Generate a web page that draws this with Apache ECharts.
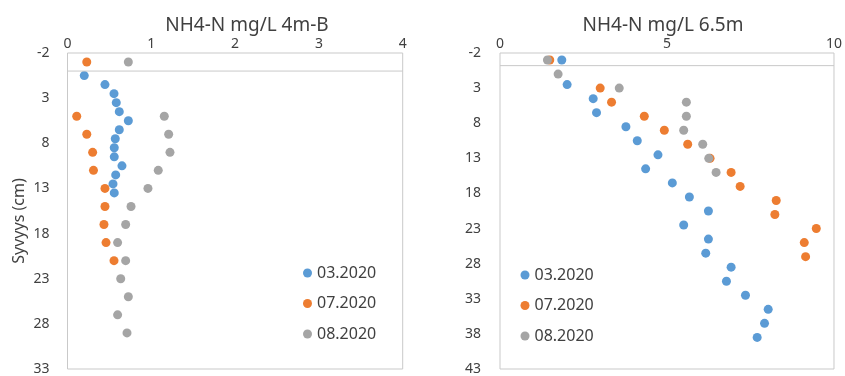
<!DOCTYPE html>
<html>
<head>
<meta charset="utf-8">
<script src="https://cdn.jsdelivr.net/npm/echarts@6/dist/echarts.min.js"></script>
<style>
  html, body { margin: 0; padding: 0; background: #fff; }
  #chart { width: 845px; height: 376px; }
</style>
</head>
<body>
<div id="chart"></div>
<script>
// Sediment pore-water NH4-N profiles, two stations.
const seriesNames = ['03.2020', '07.2020', '08.2020'];
const seriesColors = ['#5B9BD5', '#ED7D31', '#A5A5A5'];

// Station 4m-B (depth in cm, NH4-N in mg/L)
const depthA03 = [0.5, 1.5, 2.5, 3.5, 4.5, 5.5, 6.5, 7.5, 8.5, 9.5, 10.5, 11.5, 12.5, 13.5];
const valueA03 = [0.20, 0.447, 0.555, 0.582, 0.618, 0.726, 0.618, 0.57, 0.558, 0.558, 0.65, 0.575, 0.543, 0.558];
const depthA07 = [-1, 5, 7, 9, 11, 13, 15, 17, 19, 21];
const valueA07 = [0.23, 0.11, 0.23, 0.30, 0.31, 0.447, 0.447, 0.435, 0.46, 0.555];
const depthA08 = [-1, 5, 7, 9, 11, 13, 15, 17, 19, 21, 23, 25, 27, 29];
const valueA08 = [0.726, 1.155, 1.207, 1.223, 1.083, 0.96, 0.758, 0.694, 0.598, 0.694, 0.635, 0.726, 0.598, 0.71];

// Station 6.5m
const depthB03 = [-1, 2.5, 4.5, 6.5, 8.5, 10.5, 12.5, 14.5, 16.5, 18.5, 20.5, 22.5, 24.5, 26.5, 28.5, 30.5, 32.5, 34.5, 36.5, 38.5];
const valueB03 = [1.85, 2.01, 2.79, 2.89, 3.77, 4.11, 4.73, 4.36, 5.16, 5.67, 6.24, 5.5, 6.24, 6.16, 6.92, 6.78, 7.35, 8.03, 7.92, 7.7];
const depthB07 = [-1, 3, 5, 7, 9, 11, 13, 15, 17, 19, 21, 23, 25, 27];
const valueB07 = [1.49, 3.0, 3.34, 4.32, 4.92, 5.62, 6.29, 6.92, 7.19, 8.27, 8.23, 9.47, 9.11, 9.15];
const depthB08 = [-1, 1, 3, 5, 7, 9, 11, 13, 15];
const valueB08 = [1.42, 1.74, 3.57, 5.58, 5.58, 5.5, 6.07, 6.25, 6.47];

// Sediment surface reference lines
const surfaceA = [[0, 0], [4, 0]];
const surfaceB = [[0, -0.2], [10, -0.2]];

// Axis ranges and tick steps
const xRangeA = [0, 4, 1];
const xRangeB = [0, 10, 5];
const yRangeA = [-2, 33, 5];
const yRangeB = [-2, 43, 5];

const titles = ['NH4-N mg/L 4m-B', 'NH4-N mg/L 6.5m'];
const yName = 'Syvyys (cm)';

const FONT = '"Noto Sans", "DejaVu Sans", sans-serif';
const TEXT = '#404040';
const BORDER = '#C9C9C9';

const pairs = (xs, ys) => xs.map((v, i) => [v, ys[i]]);

function xAxis(idx, r) {
  return {
    gridIndex: idx, type: 'value', position: 'top',
    min: r[0], max: r[1], interval: r[2],
    axisLine: { show: false }, axisTick: { show: false }, splitLine: { show: false },
    axisLabel: { color: TEXT, fontFamily: FONT, fontSize: 14, margin: 2 }
  };
}
function yAxis(idx, r, margin) {
  return {
    gridIndex: idx, type: 'value', inverse: true,
    min: r[0], max: r[1], interval: r[2],
    axisLine: { show: false }, axisTick: { show: false }, splitLine: { show: false },
    axisLabel: { color: TEXT, fontFamily: FONT, fontSize: 14, margin: margin }
  };
}
function scatter(idx, k, xs, ys) {
  return {
    name: seriesNames[k], type: 'scatter', xAxisIndex: idx, yAxisIndex: idx,
    data: pairs(xs, ys), symbol: 'circle', symbolSize: 9,
    itemStyle: { color: seriesColors[k], opacity: 1 },
    emphasis: { disabled: true }
  };
}
function surface(idx, data) {
  return {
    type: 'line', xAxisIndex: idx, yAxisIndex: idx, data: data,
    symbol: 'none', silent: true,
    lineStyle: { color: BORDER, width: 1 }
  };
}
function legend(left, top, gap) {
  return {
    data: seriesNames, orient: 'vertical', left: left, top: top,
    icon: 'circle', itemWidth: 9, itemHeight: 9, itemGap: 14.5, itemTextGap: gap,
    textStyle: { color: TEXT, fontFamily: FONT, fontSize: 16, lineHeight: 16 }
  };
}

const chart = echarts.init(document.getElementById('chart'), null, { renderer: 'canvas' });
chart.setOption({
  animation: false,
  backgroundColor: '#fff',
  title: [
    { text: titles[0], left: 242, top: 11, textAlign: 'center',
      textStyle: { color: TEXT, fontFamily: FONT, fontSize: 19, fontWeight: 'normal' } },
    { text: titles[1], left: 658, top: 11, textAlign: 'center',
      textStyle: { color: TEXT, fontFamily: FONT, fontSize: 19, fontWeight: 'normal' } }
  ],
  grid: [
    { left: 67.5, right: 442.3, top: 53, bottom: 6, show: true, borderColor: BORDER, borderWidth: 1 },
    { left: 500, right: 8.5, top: 53, bottom: 6.5, show: true, borderColor: BORDER, borderWidth: 1 }
  ],
  xAxis: [xAxis(0, xRangeA), xAxis(1, xRangeB)],
  yAxis: [yAxis(0, yRangeA, 18), yAxis(1, yRangeB, 19)],
  legend: [legend(298, 260, 6), legend(515.5, 262, 5)],
  graphic: [{
    type: 'text', x: 19, y: 221, rotation: Math.PI / 2,
    style: { text: yName, fill: TEXT, font: '16px ' + FONT, align: 'center', verticalAlign: 'middle' }
  }],
  series: [
    surface(0, surfaceA),
    scatter(0, 0, valueA03, depthA03),
    scatter(0, 1, valueA07, depthA07),
    scatter(0, 2, valueA08, depthA08),
    surface(1, surfaceB),
    scatter(1, 0, valueB03, depthB03),
    scatter(1, 1, valueB07, depthB07),
    scatter(1, 2, valueB08, depthB08)
  ]
});
</script>
</body>
</html>
